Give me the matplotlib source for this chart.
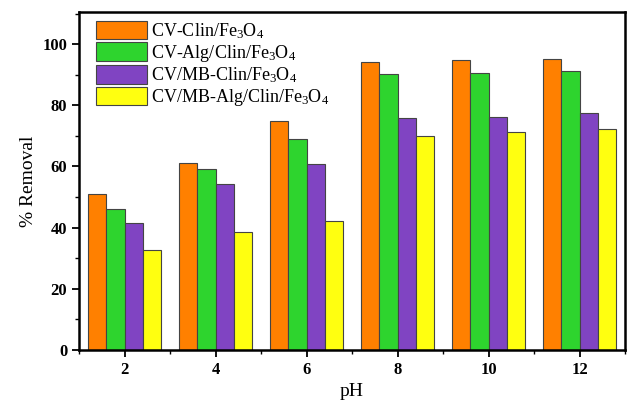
import numpy as np
import matplotlib
matplotlib.use("Agg")
import matplotlib.pyplot as plt
from matplotlib.ticker import MultipleLocator

plt.rcParams["font.family"] = "Liberation Serif"
plt.rcParams["mathtext.fontset"] = "custom"
plt.rcParams["mathtext.rm"] = "Liberation Serif"
plt.rcParams["mathtext.it"] = "Liberation Serif:italic"
plt.rcParams["mathtext.bf"] = "Liberation Serif:bold"

ph = [2, 4, 6, 8, 10, 12]
labels = ["CV-Clin/Fe$_3$O$_4$", "CV-Alg/Clin/Fe$_3$O$_4$",
          "CV/MB-Clin/Fe$_3$O$_4$", "CV/MB-Alg/Clin/Fe$_3$O$_4$"]
cv_clin = [51.0, 61.0, 75.0, 94.3, 94.7, 95.1]
cv_alg = [46.1, 59.1, 69.0, 90.1, 90.7, 91.2]
cvmb_clin = [41.4, 54.2, 60.7, 75.7, 76.2, 77.5]
cvmb_alg = [32.5, 38.6, 42.1, 70.1, 71.3, 72.2]
colors = ["#FF8000", "#2ED42E", "#8044C2", "#FFFF10"]

fig = plt.figure(figsize=(6.27, 4.03), dpi=100)
ax = fig.add_axes([0.126, 0.132, 0.871, 0.838])

w = 0.4
offsets = [-0.6, -0.2, 0.2, 0.6]
x = np.array(ph, dtype=float)
for vals, off, c, lab in zip([cv_clin, cv_alg, cvmb_clin, cvmb_alg], offsets, colors, labels):
    ax.bar(x + off, vals, width=w, color=c, edgecolor="#444444", linewidth=0.8, label=lab)

ax.set_xlim(1, 13)
ax.set_ylim(0, 110.5)
ax.set_xticks(ph)
ax.xaxis.set_minor_locator(MultipleLocator(1))
ax.yaxis.set_major_locator(MultipleLocator(20))
ax.yaxis.set_minor_locator(MultipleLocator(10))
ax.set_yticks([0, 20, 40, 60, 80, 100])

for s in ax.spines.values():
    s.set_linewidth(1.8)
ax.tick_params(which="major", direction="out", length=5, width=1.3, labelsize=12)
ax.tick_params(which="minor", direction="out", length=3, width=1.0)
for t in ax.get_xticklabels() + ax.get_yticklabels():
    t.set_fontweight("bold")

ax.set_xlabel("pH", fontsize=14)
ax.set_ylabel("% Removal", fontsize=14)

ax.legend(loc="upper left", bbox_to_anchor=(0.025, 0.985), fontsize=13, frameon=False,
          handlelength=2.8, handleheight=1.2, labelspacing=0.08, borderpad=0.2,
          borderaxespad=0, handletextpad=0.25)

plt.savefig("out.png", dpi=100)
